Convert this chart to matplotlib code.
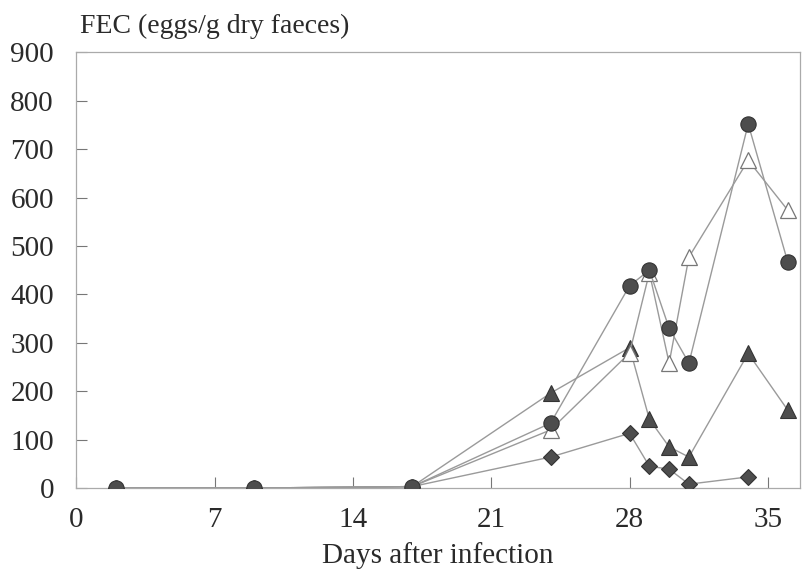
import matplotlib.pyplot as plt

plt.rcParams['font.family'] = ['Liberation Serif', 'DejaVu Serif']

# days after infection, one list per series
days_circle = [2, 9, 17, 24, 28, 29, 30, 31, 34, 36]
fec_circle = [0, 0, 3, 134, 418, 450, 330, 258, 752, 467]

days_open = [2, 9, 17, 24, 28, 29, 30, 31, 34, 36]
fec_open = [0, 0, 3, 120, 279, 445, 258, 477, 677, 574]

days_tri = [2, 9, 17, 24, 28, 29, 30, 31, 34, 36]
fec_tri = [0, 0, 3, 196, 290, 142, 85, 64, 278, 161]

days_dia = [2, 9, 17, 24, 28, 29, 30, 31, 34]
fec_dia = [0, 0, 3, 64, 113, 45, 39, 8, 23]

xticks = [0, 7, 14, 21, 28, 35]
yticks = [0, 100, 200, 300, 400, 500, 600, 700, 800, 900]

line_col = '#9a9a9a'
fill_col = '#4d4d4d'
text_col = '#2a2a2a'

fig = plt.figure(figsize=(8.02, 5.81), dpi=100)
ax = fig.add_axes([0.095, 0.16, 0.902, 0.75])

ax.plot(days_dia, fec_dia, color=line_col, lw=1.0, marker='D', ms=8,
        mfc=fill_col, mec='#333333', mew=0.8, zorder=3)
ax.plot(days_tri, fec_tri, color=line_col, lw=1.0, marker='^', ms=11,
        mfc=fill_col, mec='#333333', mew=0.8, zorder=3)
ax.plot(days_open, fec_open, color=line_col, lw=1.0, marker='^', ms=11,
        mfc='white', mec='#777777', mew=0.9, zorder=4)
ax.plot(days_circle, fec_circle, color=line_col, lw=1.0, marker='o', ms=11,
        mfc=fill_col, mec='#333333', mew=0.8, zorder=5)

ax.set_xlim(0, 36.6)
ax.set_ylim(0, 900)
ax.set_xticks(xticks)
ax.set_yticks(yticks)
ax.tick_params(direction='in', length=8, width=0.8, color='#777777',
               labelsize=21, labelcolor=text_col)
ax.tick_params(axis='y', pad=16)
ax.tick_params(axis='x', pad=14)
for s in ax.spines.values():
    s.set_color('#aaaaaa')
    s.set_linewidth(0.9)

fig.text(0.1, 0.955, 'FEC (eggs/g dry faeces)', fontsize=20, color=text_col,
         ha='left', va='center')
ax.set_xlabel('Days after infection', fontsize=21, color=text_col, labelpad=6)

fig.savefig('out.png', dpi=100)
plt.close(fig)
